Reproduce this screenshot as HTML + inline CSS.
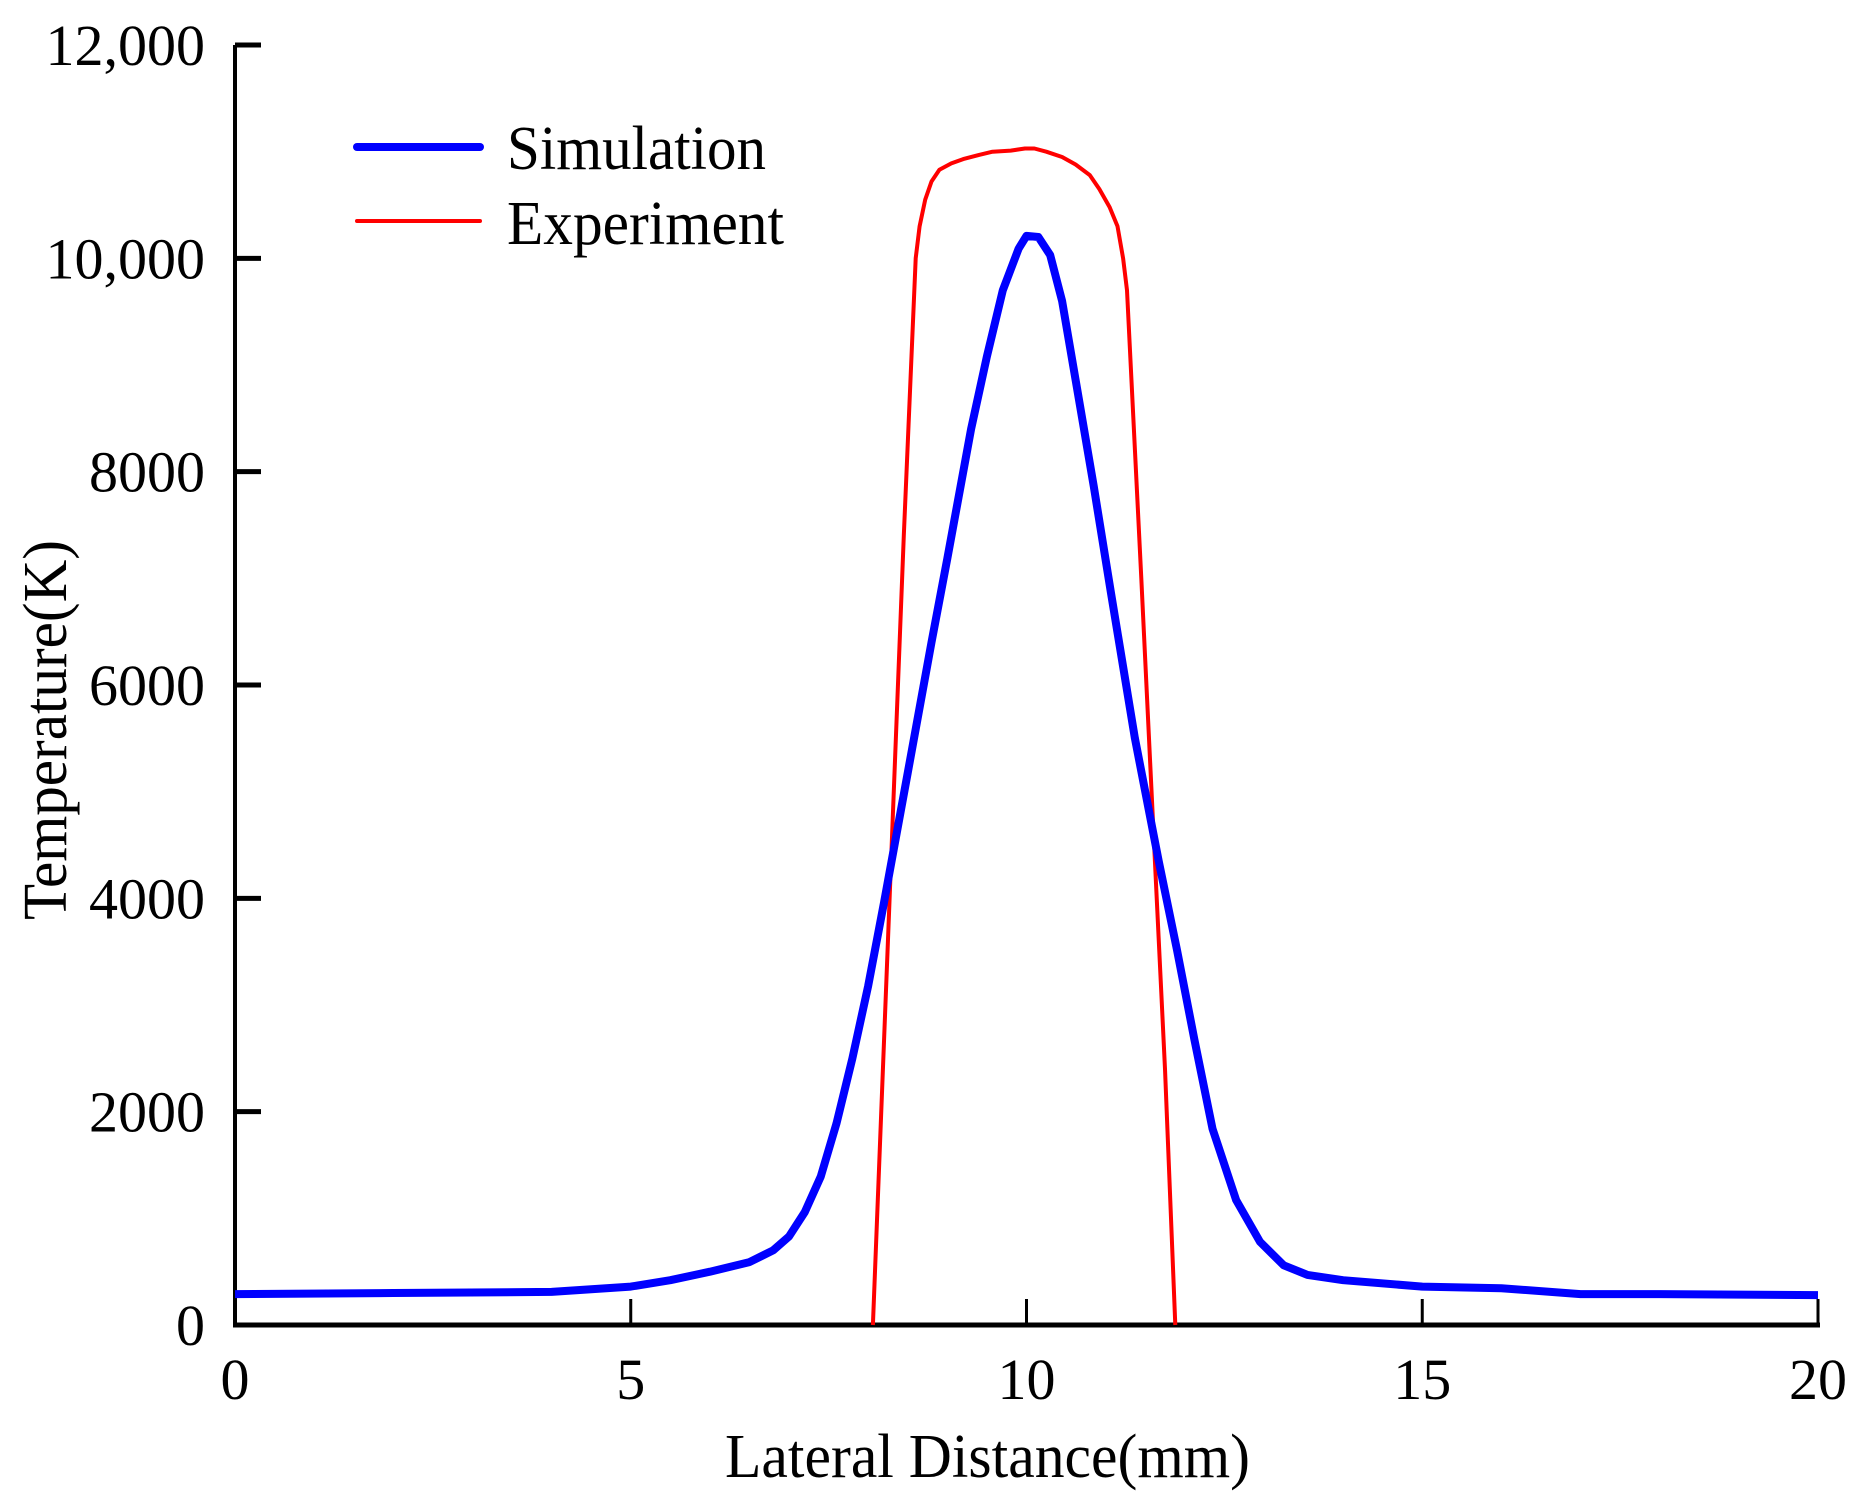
<!DOCTYPE html>
<html><head><meta charset="utf-8"><style>
html,body{margin:0;padding:0;background:#fff;}
svg{display:block;font-family:"Liberation Serif",serif;}
</style></head><body>
<svg id="chart" width="1863" height="1501" viewBox="0 0 1863 1501" xmlns="http://www.w3.org/2000/svg">
<g id="axes"></g>
<g id="series"></g>
<g>
  <line x1="357" y1="147" x2="480" y2="147" stroke="#0000ff" stroke-width="8" stroke-linecap="round"/>
  <text x="507" y="169" font-size="62" textLength="259" lengthAdjust="spacingAndGlyphs">Simulation</text>
  <line x1="357" y1="221" x2="480" y2="221" stroke="#ff0000" stroke-width="4" stroke-linecap="round"/>
  <text x="507" y="244" font-size="62" textLength="277" lengthAdjust="spacingAndGlyphs">Experiment</text>
</g>
<text x="725" y="1477" font-size="62" textLength="525" lengthAdjust="spacingAndGlyphs">Lateral Distance(mm)</text>
<text transform="translate(66,730) rotate(-90)" font-size="62" text-anchor="middle" textLength="380" lengthAdjust="spacingAndGlyphs">Temperature(K)</text>
</svg>
<script>
const xTicks = [0, 5, 10, 15, 20];
const yTicks = [0, 2000, 4000, 6000, 8000, 10000, 12000];
const yTickLabels = ["0", "2000", "4000", "6000", "8000", "10,000", "12,000"];
const simX = [0,2,4,5,5.5,6,6.5,6.8,7,7.2,7.4,7.6,7.8,8,8.2,8.5,8.8,9,9.3,9.5,9.7,9.9,10,10.15,10.3,10.45,10.62,10.85,11.07,11.37,11.67,11.9,12.12,12.35,12.65,12.95,13.25,13.55,14,15,16,17,18,20];
const simT = [290,300,310,360,420,500,590,700,830,1060,1390,1890,2500,3180,3960,5180,6400,7190,8400,9080,9700,10090,10210,10200,10030,9600,8860,7860,6850,5500,4350,3520,2680,1840,1170,780,560,470,420,360,345,290,290,280];
const expX = [8.06,8.45,8.6,8.65,8.72,8.8,8.9,9.05,9.2,9.4,9.57,9.8,9.98,10.1,10.25,10.45,10.62,10.8,10.92,11.05,11.15,11.22,11.27,11.45,11.6,11.75,11.88];
const expT = [0,7400,10000,10300,10550,10720,10830,10890,10930,10970,11000,11010,11030,11030,11000,10950,10880,10780,10650,10480,10300,10000,9700,7000,4700,2400,0];

const X0=235, X1=1818, Y0=1325, Y1=45;
const xs = v => X0 + (v-0)/(20-0)*(X1-X0);
const ys = v => Y0 - (v-0)/(12000-0)*(Y0-Y1);
const NS="http://www.w3.org/2000/svg";
function mk(tag, attrs, parent){const e=document.createElementNS(NS,tag);for(const k in attrs)e.setAttribute(k,attrs[k]);parent.appendChild(e);return e;}
const axes=document.getElementById('axes');
let a=mk('line',{x1:X0,y1:Y1,x2:X0,y2:Y0+2,stroke:'#000','stroke-width':4},axes);


a=mk('line',{x1:X0-2,y1:Y0,x2:X1+2,y2:Y0,stroke:'#000','stroke-width':5},axes);


xTicks.forEach(v=>{
  const t=mk('line',{x1:xs(v),y1:Y0,x2:xs(v),y2:Y0-26,stroke:'#000','stroke-width':3},axes);
  
  
  const l=mk('text',{x:xs(v),y:1399,'font-size':58,'text-anchor':'middle'},axes);
  l.textContent=String(v);
  
  
});
yTicks.forEach((v,i)=>{
  const t=mk('line',{x1:X0,y1:ys(v),x2:X0+26,y2:ys(v),stroke:'#000','stroke-width':5},axes);
  
  
  const l=mk('text',{x:205,y:ys(v)+20,'font-size':58,'text-anchor':'end'},axes);
  l.textContent=yTickLabels[i];
  
  
});
const series=document.getElementById('series');
function path(xa,ya){return xa.map((v,i)=>(i?'L':'M')+xs(v).toFixed(1)+' '+ys(ya[i]).toFixed(1)).join(' ');}
const ep=mk('path',{d:path(expX,expT),fill:'none',stroke:'#ff0000','stroke-width':4,'stroke-linejoin':'round'},series);


const sp=mk('path',{d:path(simX,simT),fill:'none',stroke:'#0000ff','stroke-width':8,'stroke-linejoin':'round'},series);


</script>
</body></html>
